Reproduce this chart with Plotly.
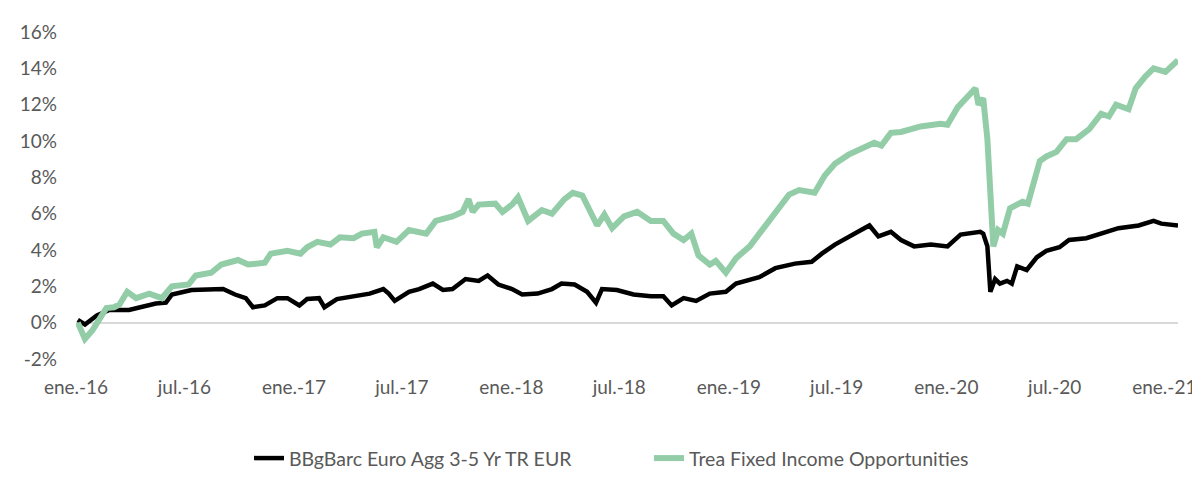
import plotly.graph_objects as go

# ---- data (cumulative return, %) ----
bench_name = "BBgBarc Euro Agg 3-5 Yr TR EUR"
fund_name = "Trea Fixed Income Opportunities"

fund_dates = [
    "2016-01-04", "2016-01-16", "2016-01-29", "2016-02-13", "2016-02-21", "2016-03-05",
    "2016-03-14", "2016-03-27", "2016-04-11", "2016-05-03", "2016-05-24", "2016-06-10",
    "2016-07-08", "2016-07-20", "2016-08-15", "2016-09-01", "2016-09-29", "2016-10-16",
    "2016-11-13", "2016-11-23", "2016-12-21", "2017-01-12", "2017-01-23", "2017-02-09",
    "2017-03-03", "2017-03-19", "2017-04-11", "2017-04-25", "2017-05-16", "2017-05-20",
    "2017-05-31", "2017-06-22", "2017-07-13", "2017-08-11", "2017-08-27", "2017-09-24",
    "2017-10-11", "2017-10-21", "2017-10-28", "2017-11-07", "2017-12-05", "2017-12-17",
    "2018-01-02", "2018-01-12", "2018-01-29", "2018-02-21", "2018-03-10", "2018-03-31",
    "2018-04-14", "2018-04-30", "2018-05-15", "2018-05-25", "2018-06-06", "2018-06-19",
    "2018-07-09", "2018-07-31", "2018-08-23", "2018-09-13", "2018-09-30", "2018-10-17",
    "2018-10-30", "2018-11-11", "2018-11-30", "2018-12-10", "2018-12-27", "2019-01-13",
    "2019-02-05", "2019-02-26", "2019-03-20", "2019-04-12", "2019-04-29", "2019-05-25",
    "2019-06-11", "2019-06-28", "2019-07-21", "2019-08-17", "2019-09-02", "2019-09-14",
    "2019-09-30", "2019-10-17", "2019-11-19", "2019-12-22", "2020-01-03", "2020-01-20",
    "2020-02-05", "2020-02-19", "2020-02-24", "2020-03-03", "2020-03-10", "2020-03-15",
    "2020-03-20", "2020-03-28", "2020-04-05", "2020-04-17", "2020-05-08", "2020-05-17",
    "2020-05-25", "2020-06-06", "2020-06-17", "2020-07-04", "2020-07-21", "2020-08-06",
    "2020-08-28", "2020-09-17", "2020-09-30", "2020-10-12", "2020-11-02", "2020-11-14",
    "2020-11-30", "2020-12-14", "2021-01-03", "2021-01-24",
]
fund_values = [
    0.0, -0.9, -0.4, 0.4, 0.8, 0.85,
    1.0, 1.7, 1.35, 1.6, 1.35, 2.0,
    2.1, 2.6, 2.75, 3.2, 3.45, 3.2,
    3.3, 3.8, 3.95, 3.8, 4.15, 4.45,
    4.3, 4.7, 4.65, 4.9, 5.0, 4.15,
    4.7, 4.45, 5.1, 4.9, 5.6, 5.85,
    6.1, 6.8, 6.1, 6.5, 6.55, 6.1,
    6.5, 6.9, 5.6, 6.2, 6.0, 6.8,
    7.15, 7.0, 5.95, 5.35, 5.95, 5.2,
    5.85, 6.1, 5.6, 5.6, 4.9, 4.55,
    4.9, 3.7, 3.2, 3.4, 2.75, 3.55,
    4.2, 5.1, 6.1, 7.05, 7.3, 7.15,
    8.1, 8.75, 9.25, 9.65, 9.9, 9.75,
    10.45, 10.5, 10.8, 10.95, 10.9, 11.85,
    12.35, 12.9, 12.0, 12.35, 10.1, 7.0,
    4.2, 5.1, 4.9, 6.3, 6.65, 6.55,
    7.5, 8.9, 9.15, 9.4, 10.1, 10.1,
    10.65, 11.5, 11.35, 12.0, 11.75, 12.9,
    13.55, 14.0, 13.8, 14.45,
]

bench_dates = [
    "2016-01-04", "2016-01-16", "2016-02-05", "2016-02-26", "2016-03-30", "2016-04-21",
    "2016-05-14", "2016-05-31", "2016-06-10", "2016-07-13", "2016-08-15", "2016-09-04",
    "2016-09-24", "2016-10-12", "2016-10-24", "2016-11-13", "2016-12-04", "2016-12-21",
    "2017-01-10", "2017-01-23", "2017-02-12", "2017-02-21", "2017-03-14", "2017-04-11",
    "2017-05-08", "2017-05-31", "2017-06-09", "2017-06-19", "2017-07-13", "2017-07-30",
    "2017-08-22", "2017-09-08", "2017-09-24", "2017-10-16", "2017-11-07", "2017-11-22",
    "2017-12-10", "2018-01-02", "2018-01-19", "2018-02-14", "2018-03-10", "2018-03-26",
    "2018-04-17", "2018-05-08", "2018-05-23", "2018-06-02", "2018-06-27", "2018-07-25",
    "2018-08-23", "2018-09-13", "2018-09-27", "2018-10-17", "2018-11-07", "2018-11-30",
    "2018-12-27", "2019-01-13", "2019-02-21", "2019-03-20", "2019-04-22", "2019-05-20",
    "2019-06-06", "2019-06-28", "2019-07-21", "2019-08-11", "2019-08-25", "2019-09-09",
    "2019-09-30", "2019-10-17", "2019-11-08", "2019-12-06", "2020-01-03", "2020-01-25",
    "2020-02-27", "2020-03-03", "2020-03-10", "2020-03-15", "2020-03-23", "2020-03-31",
    "2020-04-12", "2020-04-20", "2020-04-29", "2020-05-15", "2020-06-01", "2020-06-17",
    "2020-07-09", "2020-07-25", "2020-08-23", "2020-09-13", "2020-10-16", "2020-11-19",
    "2020-12-14", "2020-12-27", "2021-01-24",
]
bench_values = [
    0.15, -0.1, 0.4, 0.7, 0.7, 0.85,
    1.05, 1.1, 1.55, 1.8, 1.8, 1.85,
    1.55, 1.35, 0.85, 0.95, 1.35, 1.35,
    0.95, 1.3, 1.35, 0.85, 1.3, 1.45,
    1.6, 1.85, 1.6, 1.2, 1.7, 1.85,
    2.15, 1.8, 1.85, 2.4, 2.3, 2.6,
    2.1, 1.85, 1.55, 1.6, 1.85, 2.15,
    2.1, 1.7, 1.1, 1.85, 1.8, 1.55,
    1.45, 1.45, 0.95, 1.35, 1.2, 1.6,
    1.7, 2.15, 2.5, 3.0, 3.25, 3.35,
    3.8, 4.3, 4.75, 5.1, 5.35, 4.75,
    5.0, 4.55, 4.2, 4.3, 4.2, 4.85,
    5.0, 4.9, 4.2, 1.7, 2.4, 2.15,
    2.3, 2.15, 3.1, 2.9, 3.6, 3.95,
    4.15, 4.55, 4.65, 4.85, 5.2, 5.35,
    5.6, 5.45, 5.35,
]

tick_dates = ["2016-01-01", "2016-07-01", "2017-01-01", "2017-07-01", "2018-01-01",
              "2018-07-01", "2019-01-01", "2019-07-01", "2020-01-01", "2020-07-01",
              "2021-01-01"]
tick_labels = ["ene.-16", "jul.-16", "ene.-17", "jul.-17", "ene.-18", "jul.-18",
               "ene.-19", "jul.-19", "ene.-20", "jul.-20", "ene.-21"]
y_ticks = [-2, 0, 2, 4, 6, 8, 10, 12, 14, 16]
y_labels = [f"{v}%" for v in y_ticks]

FONT = "Lato"
GRAY = "#595959"

fig = go.Figure()
fig.add_trace(go.Scatter(x=bench_dates, y=bench_values, mode="lines", name=bench_name,
                         line=dict(color="#000000", width=4.5), legend="legend"))
fig.add_trace(go.Scatter(x=fund_dates, y=fund_values, mode="lines", name=fund_name,
                         line=dict(color="#93CDA8", width=6), legend="legend2"))

leg_common = dict(orientation="h", yanchor="middle", y=-0.304, xanchor="left",
                  font=dict(family=FONT, size=19.5, color=GRAY), itemwidth=30,
                  bgcolor="rgba(0,0,0,0)")

fig.update_layout(
    width=1200, height=482,
    margin=dict(l=66, r=20, t=23, b=114),
    paper_bgcolor="white", plot_bgcolor="white",
    font=dict(family=FONT, size=19, color=GRAY),
    showlegend=True,
    legend=dict(x=0.157, **leg_common),
    legend2=dict(x=0.52, **leg_common),
    xaxis=dict(type="date", range=["2016-01-01", "2021-01-24"],
               tickvals=tick_dates, ticktext=tick_labels, showgrid=False,
               zeroline=False, showline=False, ticks="", ticklabelstandoff=15,
               tickfont=dict(family=FONT, size=19, color=GRAY)),
    yaxis=dict(range=[-2, 16], tickvals=y_ticks, ticktext=y_labels, showgrid=False,
               zeroline=True, zerolinecolor="#D9D9D9", zerolinewidth=2,
               showline=False, ticks="", ticklabelstandoff=18,
               tickfont=dict(family=FONT, size=19, color=GRAY)),
)

fig.write_html("out.html")
